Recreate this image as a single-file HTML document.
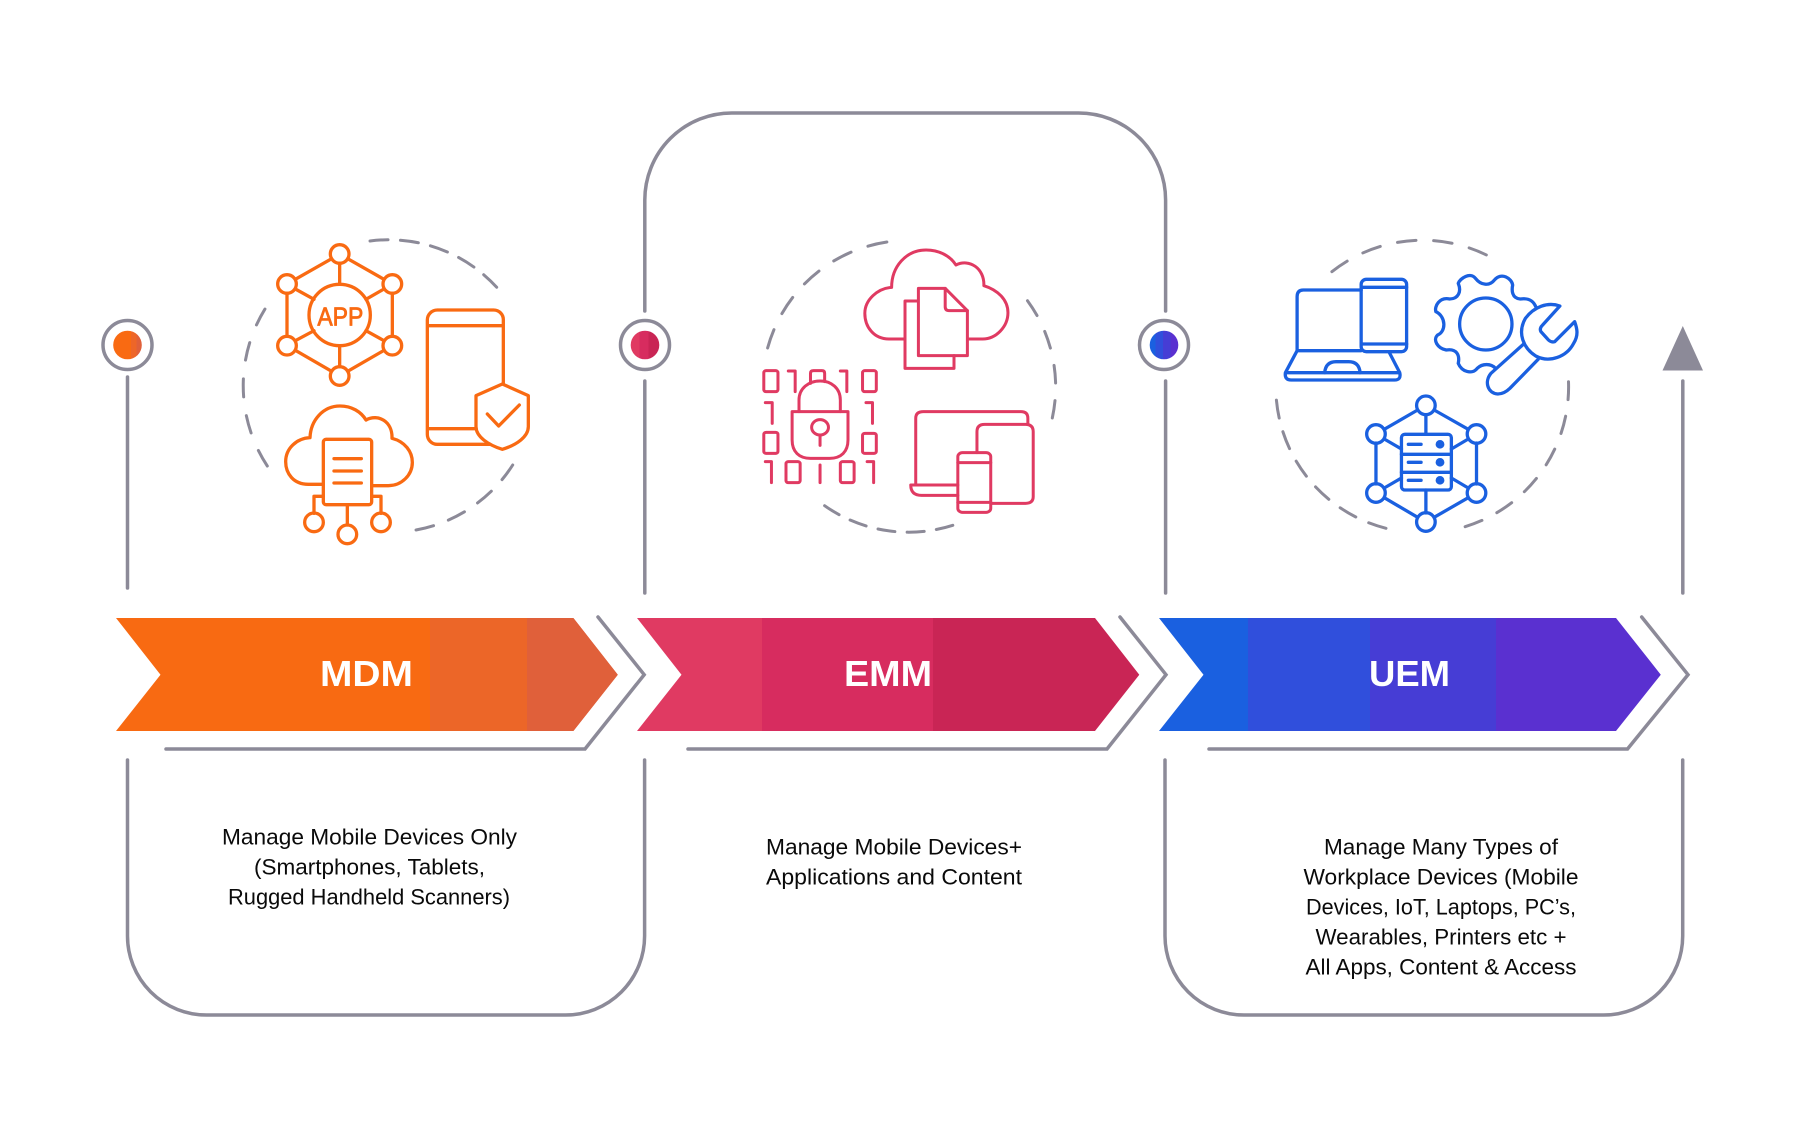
<!DOCTYPE html>
<html><head><meta charset="utf-8"><style>
html,body{margin:0;padding:0;background:#fff}
svg{display:block}
.i *{vector-effect:non-scaling-stroke;stroke-linejoin:round;stroke-linecap:round}
.l{fill:none;stroke:#8C8A98;stroke-width:3.5;stroke-linecap:round;stroke-linejoin:miter}
.d{fill:none;stroke:#8C8A98;stroke-width:3;stroke-linecap:round}
.t{font-family:"Liberation Sans",sans-serif;font-size:22px;fill:#0a0a0a}
.h{font-family:"Liberation Sans",sans-serif;font-size:36px;font-weight:bold;fill:#fff}
</style></head><body>
<svg width="1810" height="1125" viewBox="0 0 1810 1125" xmlns="http://www.w3.org/2000/svg">
<defs>
<clipPath id="c1"><polygon points="116,618 573.4,618 617.8,674.7 573.4,731 116,731 160.5,674.7"/></clipPath>
<clipPath id="c2"><polygon points="637,618 1095,618 1139.3,674.7 1095,731 637,731 681.5,674.7"/></clipPath>
<clipPath id="c3"><polygon points="1159,618 1616,618 1660.8,674.7 1616,731 1159,731 1203.5,674.7"/></clipPath>
<linearGradient id="g1" x1="0" x2="1" y1="0" y2="0"><stop offset="0.62" stop-color="#F96A12"/><stop offset="0.62" stop-color="#EE6628"/><stop offset="0.82" stop-color="#EE6628"/><stop offset="0.82" stop-color="#E0603A"/></linearGradient>
<linearGradient id="g2" x1="0" x2="1" y1="0" y2="0"><stop offset="0.3" stop-color="#E03A62"/><stop offset="0.3" stop-color="#D72C5F"/><stop offset="0.62" stop-color="#D72C5F"/><stop offset="0.62" stop-color="#C92555"/></linearGradient>
<linearGradient id="g3" x1="0" x2="1" y1="0" y2="0"><stop offset="0.2" stop-color="#1A60E0"/><stop offset="0.2" stop-color="#304FDC"/><stop offset="0.47" stop-color="#304FDC"/><stop offset="0.47" stop-color="#463DD5"/><stop offset="0.72" stop-color="#463DD5"/><stop offset="0.72" stop-color="#5A30D0"/></linearGradient>
</defs>
<rect width="1810" height="1125" fill="#fff"/>

<!-- Chevrons -->
<g clip-path="url(#c1)"><rect x="116" y="618" width="315" height="113" fill="#F86A12"/><rect x="431" y="618" width="97" height="113" fill="#EC6628"/><rect x="528" y="618" width="92" height="113" fill="#E0603A"/></g>
<g clip-path="url(#c1)"><rect x="430" y="618" width="98" height="113" fill="#EC6628"/><rect x="527" y="618" width="93" height="113" fill="#E0603A"/></g>
<g clip-path="url(#c2)"><rect x="637" y="618" width="125" height="113" fill="#E03A62"/><rect x="762" y="618" width="171" height="113" fill="#D72C5F"/><rect x="933" y="618" width="207" height="113" fill="#C92555"/></g>
<g clip-path="url(#c3)"><rect x="1159" y="618" width="89" height="113" fill="#1A60E0"/><rect x="1248" y="618" width="122" height="113" fill="#304FDC"/><rect x="1370" y="618" width="126" height="113" fill="#463DD5"/><rect x="1496" y="618" width="165" height="113" fill="#5A30D0"/></g>

<text class="h" x="320" y="686" textLength="93" lengthAdjust="spacingAndGlyphs">MDM</text>
<text class="h" x="844" y="686" textLength="88" lengthAdjust="spacingAndGlyphs">EMM</text>
<text class="h" x="1369" y="686" textLength="81" lengthAdjust="spacingAndGlyphs">UEM</text>

<!-- Chevron outlines -->
<path class="l" d="M598 617 L644.2 674.7 L585 749 H166"/>
<path class="l" d="M1120 617 L1166 674.7 L1107 749 H688"/>
<path class="l" d="M1641.7 617 L1688 674.7 L1627.5 749 H1209"/>

<!-- Frames -->
<path class="l" d="M127.5 377 V588"/>
<path class="l" d="M127.5 760 V936 A79 79 0 0 0 206.5 1015 H565.6 A79 79 0 0 0 644.6 936 V760"/>
<path class="l" d="M644.8 311 V200 A87 87 0 0 1 732 113 H1078 A87 87 0 0 1 1165.6 200 V311"/>
<path class="l" d="M644.8 381 V593"/>
<path class="l" d="M1165.6 381 V593"/>
<path class="l" d="M1165 760 V936 A79 79 0 0 0 1244 1015 H1603.7 A79 79 0 0 0 1682.7 936 V760"/>
<path class="l" d="M1682.8 381 V593"/>
<polygon points="1682.8,326 1703,370.5 1662.5,370.5" fill="#8C8A98"/>

<!-- Rings -->
<circle cx="127.5" cy="345" r="24.5" fill="#fff" stroke="#8C8A98" stroke-width="3.5"/>
<circle cx="127.5" cy="345" r="14.3" fill="url(#g1)"/>
<circle cx="645" cy="345" r="24.5" fill="#fff" stroke="#8C8A98" stroke-width="3.5"/>
<circle cx="645" cy="345" r="14.3" fill="url(#g2)"/>
<circle cx="1164" cy="345" r="24.5" fill="#fff" stroke="#8C8A98" stroke-width="3.5"/>
<circle cx="1164" cy="345" r="14.3" fill="url(#g3)"/>

<!-- Dashed arcs -->
<path class="d" pathLength="139.6" stroke-dasharray="18 12.4" d="M370 241 A146 146 0 0 1 496.7 287.3"/>
<path class="d" pathLength="119.1" stroke-dasharray="18 15.7" d="M512.7 465 A146 146 0 0 1 416 530"/>
<path class="d" pathLength="166" stroke-dasharray="18 19" d="M267.3 466 A146 146 0 0 1 265 309"/>
<path class="d" pathLength="165" stroke-dasharray="19 17.5" d="M767.6 348 A146 146 0 0 1 887 242"/>
<path class="d" pathLength="126" stroke-dasharray="18 18" d="M1027.5 300.7 A146 146 0 0 1 1052.3 418"/>
<path class="d" pathLength="134" stroke-dasharray="17 12.25" d="M952.8 525.3 A146 146 0 0 1 824.6 505.7"/>
<path class="d" pathLength="163" stroke-dasharray="18.5 17.6" d="M1331.9 271.7 A146 146 0 0 1 1486.5 255"/>
<path class="d" pathLength="192" stroke-dasharray="18 16.8" d="M1568.5 381.7 A146 146 0 0 1 1465 526.7"/>
<path class="d" pathLength="178" stroke-dasharray="18 14" d="M1386 528.3 A146 146 0 0 1 1276.4 400"/>

<!-- Orange icons -->
<g class="i" transform="translate(60,200) scale(0.33333)" fill="none" stroke="#F96A12" stroke-width="3.3">
<path d="M815 176 L706 238 M863 176 L972 238 M681 280 V409 M997 280 V409 M706 451 L815 514 M972 451 L863 514 M839 190 V253 M839 437 V500 M706 267 L762 298 M972 267 L918 298 M706 422 L762 392 M972 422 L918 392"/>
<circle cx="839" cy="162" r="28"/><circle cx="681" cy="252" r="28"/><circle cx="997" cy="252" r="28"/>
<circle cx="681" cy="437" r="28"/><circle cx="997" cy="437" r="28"/><circle cx="839" cy="528" r="28"/>
<circle cx="839" cy="345" r="92"/>
<text x="772" y="377" font-family="Liberation Sans,sans-serif" font-size="78" fill="#F96A12" stroke="#F96A12" stroke-width="0.8" textLength="138" lengthAdjust="spacingAndGlyphs">APP</text>
<path d="M1330 552 V360 A29 29 0 0 0 1301 330 H1132 A30 30 0 0 0 1102 360 V703 A30 30 0 0 0 1132 733 H1290 M1102 377 H1330 M1102 686 H1248"/>
<path d="M1327 552 L1405 587 V680 C1405 710 1370 735 1327 748 C1285 735 1248 710 1248 680 V587 Z"/>
<path d="M1282 642 L1316 678 L1378 615"/>
<path d="M790 853 H745 C700 853 677 820 677 785 C677 745 710 715 750 713 C752 660 790 618 840 618 C875 618 903 635 918 660 C955 640 998 665 996 715 C1035 725 1057 755 1057 787 C1057 825 1025 857 985 857 H935"/>
<rect x="790" y="718" width="145" height="196" rx="8"/>
<path d="M822 776 H904 M822 813 H904 M822 849 H904"/>
<path d="M790 889 H762 V940 M862 914 V975 M935 889 H963 V940"/>
<circle cx="762" cy="967" r="28"/><circle cx="862" cy="1003" r="28"/><circle cx="963" cy="967" r="28"/>
</g>

<!-- Red icons -->
<g class="i" transform="translate(600,90) scale(0.3827,0.33333)" fill="none" stroke="#E03A62" stroke-width="3">
<path d="M795 747 H755 C715 747 692 710 692 670 C692 630 725 595 762 592 C762 530 800 480 852 480 C885 480 915 497 930 525 C965 505 1005 535 1003 587 C1040 600 1066 630 1066 668 C1066 710 1035 747 1000 747 H962"/>
<path d="M830 633 H797 V835 H925 V797"/>
<path d="M902 595 H832 V797 H960 V662 Z"/>
<path d="M902 595 V650 Q902 662 912 662 H960"/>
<rect x="428" y="842" width="37" height="63" rx="6"/>
<path d="M492 843 H510 V905"/>
<path d="M550 880 V850 Q550 842 558 842 H580 Q587 842 587 850 V875"/>
<path d="M628 843 H645 V905"/>
<rect x="686" y="842" width="36" height="63" rx="6"/>
<path d="M432 938 H450 V1000 M695 938 H712 V1000"/>
<rect x="428" y="1027" width="37" height="63" rx="6"/>
<rect x="686" y="1030" width="36" height="60" rx="6"/>
<path d="M432 1115 H448 V1178"/>
<rect x="486" y="1115" width="37" height="63" rx="6"/>
<path d="M575 1125 V1178"/>
<rect x="628" y="1115" width="36" height="63" rx="6"/>
<path d="M698 1115 H715 V1178"/>
<path d="M502 965 H648 V1050 C648 1085 630 1105 600 1105 H550 C520 1105 502 1085 502 1050 Z"/>
<path d="M520 965 V930 C520 895 545 873 575 873 C605 873 628 895 628 930 V965"/>
<ellipse cx="575" cy="1012" rx="22" ry="23"/>
<path d="M575 1035 V1066"/>
<path d="M825 1185 V985 Q825 965 845 965 H1100 Q1118 965 1118 985 V1002"/>
<path d="M812 1185 H935 M812 1185 Q812 1216 840 1216 H935"/>
<path d="M985 1088 V1025 Q985 1003 1005 1003 H1112 Q1132 1003 1132 1025 V1220 Q1132 1240 1112 1240 H1022"/>
<rect x="935" y="1088" width="86" height="179" rx="12"/>
<path d="M935 1118 H1021 M935 1237 H1021"/>
</g>

<!-- Blue icons -->
<g class="i" transform="translate(1200,200) scale(0.34435,0.33333)" fill="none" stroke="#1A60E0" stroke-width="3.3">
<path d="M468 270 H300 Q282 270 282 290 V452 H468"/>
<rect x="468" y="238" width="132" height="217" rx="15"/>
<path d="M468 262 H600 M468 432 H600"/>
<path d="M282 452 L248 518 Q245 540 265 540 H565 Q585 540 580 518 L550 458 M250 518 H580"/>
<path d="M362 518 Q365 485 395 485 H432 Q462 485 465 518"/>
<ellipse cx="830" cy="372" rx="76" ry="78"/>
<path d="M975 320 C965 295 945 295 930 297 C905 295 905 270 908 255 C905 235 875 215 855 240 C840 260 815 255 800 235 C785 215 755 235 750 250 C760 275 750 297 725 297 C695 290 680 320 685 335 C715 350 715 395 690 405 C675 420 690 445 715 450 C745 445 755 465 750 490 C760 515 790 525 805 505 C820 490 845 490 858 505"/>
<path d="M1045 318 C1010 305 970 320 945 355 C920 400 940 445 975 468 C1015 490 1065 470 1085 430 C1100 405 1095 385 1088 365 L1030 425 Q1020 428 1012 420 L990 395 Q985 385 995 375 Z"/>
<path d="M940 432 L845 520 C825 545 835 580 865 582 C880 582 890 575 900 565 L982 478"/>
<g transform="translate(0,4)">
<path d="M632 626 L535 684 M680 626 L779 684 M511 725 V848 M803 725 V848 M535 889 L632 948 M779 889 L680 948 M656 640 V699 M656 866 V935 M535 713 L585 743 M779 713 L730 743 M535 860 L585 830 M779 860 L730 830"/>
<ellipse cx="656" cy="612" rx="27" ry="28"/><ellipse cx="511" cy="698" rx="27" ry="28"/><ellipse cx="803" cy="698" rx="27" ry="28"/>
<ellipse cx="511" cy="875" rx="27" ry="28"/><ellipse cx="803" cy="875" rx="27" ry="28"/><ellipse cx="656" cy="962" rx="27" ry="28"/>
</g>
<rect x="585" y="703" width="145" height="167" rx="10"/>
<path d="M585 763 H730 M585 817 H730 M605 733 H642 M605 787 H642 M605 841 H642"/>
<ellipse cx="697" cy="733" rx="8" ry="8" fill="#1A60E0"/><ellipse cx="697" cy="787" rx="8" ry="8" fill="#1A60E0"/><ellipse cx="697" cy="841" rx="8" ry="8" fill="#1A60E0"/>
</g>

<!-- Body text -->
<text class="t" x="222" y="844.5" textLength="295" lengthAdjust="spacingAndGlyphs">Manage Mobile Devices Only</text>
<text class="t" x="254" y="874.5" textLength="231" lengthAdjust="spacingAndGlyphs">(Smartphones, Tablets,</text>
<text class="t" x="228" y="904.5" textLength="282" lengthAdjust="spacingAndGlyphs">Rugged Handheld Scanners)</text>

<text class="t" x="766" y="854.5" textLength="256" lengthAdjust="spacingAndGlyphs">Manage Mobile Devices+</text>
<text class="t" x="766" y="884.5" textLength="256" lengthAdjust="spacingAndGlyphs">Applications and Content</text>

<text class="t" x="1324" y="854.5" textLength="234" lengthAdjust="spacingAndGlyphs">Manage Many Types of</text>
<text class="t" x="1303.5" y="884.5" textLength="275" lengthAdjust="spacingAndGlyphs">Workplace Devices (Mobile</text>
<text class="t" x="1306" y="914.5" textLength="270" lengthAdjust="spacingAndGlyphs">Devices, IoT, Laptops, PC’s,</text>
<text class="t" x="1315.5" y="944.5" textLength="251" lengthAdjust="spacingAndGlyphs">Wearables, Printers etc +</text>
<text class="t" x="1305.5" y="974.5" textLength="271" lengthAdjust="spacingAndGlyphs">All Apps, Content &amp; Access</text>
</svg>
</body></html>
